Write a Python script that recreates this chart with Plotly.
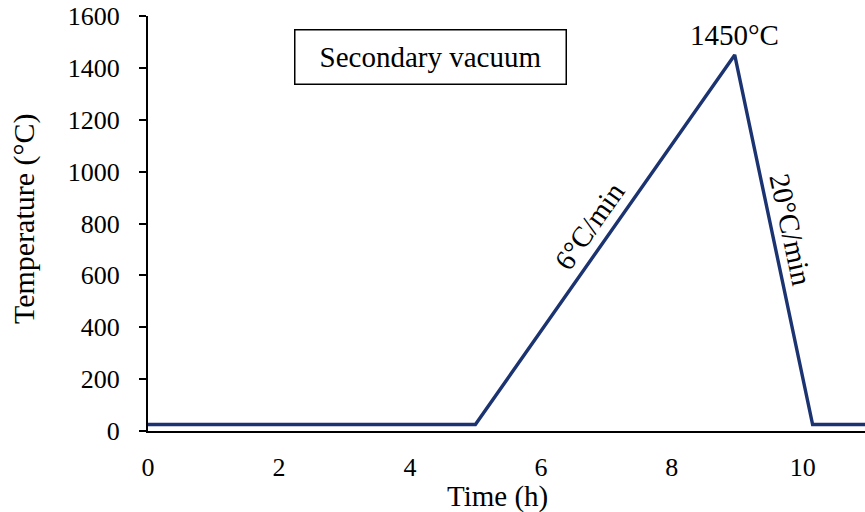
import plotly.graph_objects as go

time_h = [0, 5, 8.96, 10.15, 11]
temp_c = [25, 25, 1450, 25, 25]
y_ticks = [0, 200, 400, 600, 800, 1000, 1200, 1400, 1600]
x_ticks = [0, 2, 4, 6, 8, 10]

FONT = "Liberation Serif, Times New Roman, serif"

fig = go.Figure()
fig.add_trace(go.Scatter(x=time_h, y=temp_c, mode="lines",
                         line=dict(color="#1B3370", width=3.4), showlegend=False,
                         cliponaxis=True))

fig.update_layout(
    width=865, height=512,
    margin=dict(l=148, r=0, t=16, b=81),
    plot_bgcolor="white", paper_bgcolor="white",
    font=dict(family=FONT, size=26, color="black"),
    xaxis=dict(range=[0, 10.95], tickvals=x_ticks, showline=True, linecolor="black",
               linewidth=2, ticks="", showgrid=False, zeroline=False, automargin=False,
               ticklabelstandoff=12, tickfont=dict(size=26)),
    yaxis=dict(range=[0, 1600], tickvals=y_ticks, showline=True, linecolor="black",
               linewidth=2, ticks="outside", ticklen=7, tickwidth=1.5, tickcolor="black",
               showgrid=False, zeroline=False, ticklabelstandoff=14, automargin=False,
               tickfont=dict(size=26)),
)

# Axis titles
fig.add_annotation(x=0.487, y=-0.159, xref="paper", yref="paper", text="Time (h)",
                   showarrow=False, font=dict(size=29), xanchor="center", yanchor="middle")
fig.add_annotation(x=-0.173, y=0.513, xref="paper", yref="paper", text="Temperature (°C)",
                   showarrow=False, font=dict(size=30), textangle=-90,
                   xanchor="center", yanchor="middle")

# Boxed label
fig.add_annotation(x=0.3947, y=0.901, xref="paper", yref="paper",
                   text="Secondary vacuum", showarrow=False, font=dict(size=29),
                   bordercolor="black", borderwidth=1.5, width=268, height=51,
                   bgcolor="white", xanchor="center", yanchor="middle")
fig.add_annotation(x=8.95, y=1527, text="1450°C", showarrow=False, font=dict(size=29),
                   xanchor="center", yanchor="middle")
fig.add_annotation(x=6.74, y=790, text="6°C/min", showarrow=False, font=dict(size=29),
                   textangle=-55, xanchor="center", yanchor="middle")
fig.add_annotation(x=9.82, y=775, text="20°C/min", showarrow=False, font=dict(size=29),
                   textangle=78, xanchor="center", yanchor="middle")

fig.write_html("out.html", config={"displayModeBar": False},
               post_script="document.body.style.margin='0';")
